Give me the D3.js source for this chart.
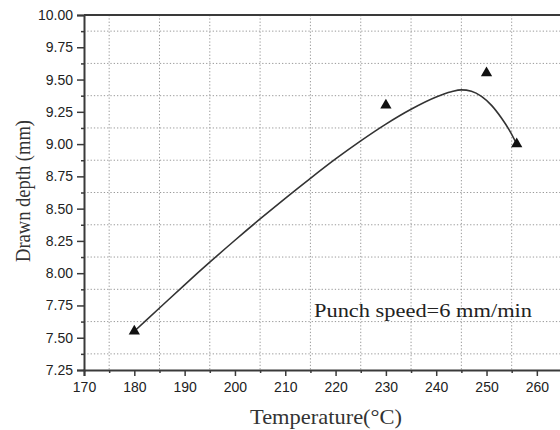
<!DOCTYPE html>
<html>
<head>
<meta charset="utf-8">
<script src="https://cdn.jsdelivr.net/npm/d3@7"></script>
<style>
  body { margin: 0; background: #fff; }
  svg { display: block; }
</style>
</head>
<body>
<svg class="chart" width="560" height="430"></svg>
<script>
// measured points (triangles)
var temps = [180, 230, 250, 256];
var depths = [7.55, 9.30, 9.55, 9.00];

// fitted curve
var fitTemps = [180, 185, 190, 195, 200, 205, 210, 215, 220, 225, 230, 235, 240, 243, 245, 247, 249, 251, 253, 254.5, 256];
var fitDepths = [7.55, 7.73, 7.91, 8.085, 8.255, 8.42, 8.58, 8.735, 8.885, 9.025, 9.155, 9.27, 9.365, 9.405, 9.42, 9.41, 9.37, 9.30, 9.20, 9.11, 9.00];

var xTicks = [170, 180, 190, 200, 210, 220, 230, 240, 250, 260];
var xMinor = [175, 185, 195, 205, 215, 225, 235, 245, 255];
var yTicks = [7.25, 7.50, 7.75, 8.00, 8.25, 8.50, 8.75, 9.00, 9.25, 9.50, 9.75, 10.00];
var yMinor = [7.375, 7.625, 7.875, 8.125, 8.375, 8.625, 8.875, 9.125, 9.375, 9.625, 9.875];

var axisColor = "#3a3a3a";

var svg = d3.select(".chart");

var x = d3.scaleLinear().domain([170, 265]).range([84, 562]);
var y = d3.scaleLinear().domain([7.25, 10]).range([370, 15]);

// dotted grid on the minor positions
svg.append("g")
  .selectAll("line.vg")
  .data(xMinor)
  .enter().append("line")
  .attr("x1", d => x(d)).attr("x2", d => x(d))
  .attr("y1", y(10)).attr("y2", y(7.25))
  .attr("stroke", "#9a9a9a")
  .attr("stroke-width", 1)
  .attr("stroke-dasharray", "1.3,2");

svg.append("g")
  .selectAll("line.hg")
  .data(yMinor)
  .enter().append("line")
  .attr("x1", x(170)).attr("x2", 560)
  .attr("y1", d => y(d)).attr("y2", d => y(d))
  .attr("stroke", "#9a9a9a")
  .attr("stroke-width", 1)
  .attr("stroke-dasharray", "1.3,2");

// x axis
var xAxis = svg.append("g")
  .attr("transform", "translate(0," + y(7.25) + ")")
  .call(d3.axisBottom(x).tickValues(xTicks).tickSize(6).tickPadding(6).tickFormat(d3.format("d")));
xAxis.select(".domain").attr("stroke", axisColor).attr("stroke-width", 2);
xAxis.selectAll(".tick line").attr("stroke", axisColor).attr("stroke-width", 1.5);
xAxis.selectAll("text")
  .attr("font-family", "Liberation Sans, Arial, sans-serif")
  .attr("font-size", 14)
  .attr("fill", "#222");

svg.append("g")
  .attr("transform", "translate(0," + y(7.25) + ")")
  .call(d3.axisBottom(x).tickValues(xMinor).tickSize(3).tickFormat(""))
  .call(g => g.select(".domain").remove())
  .selectAll(".tick line").attr("stroke", axisColor).attr("stroke-width", 1.5);

// y axis
var yAxis = svg.append("g")
  .attr("transform", "translate(" + x(170) + ",0)")
  .call(d3.axisLeft(y).tickValues(yTicks).tickSize(7).tickPadding(4).tickFormat(d3.format(".2f")));
yAxis.select(".domain").attr("stroke", axisColor).attr("stroke-width", 2);
yAxis.selectAll(".tick line").attr("stroke", axisColor).attr("stroke-width", 1.5);
yAxis.selectAll("text")
  .attr("font-family", "Liberation Sans, Arial, sans-serif")
  .attr("font-size", 14)
  .attr("fill", "#222");

svg.append("g")
  .attr("transform", "translate(" + x(170) + ",0)")
  .call(d3.axisLeft(y).tickValues(yMinor).tickSize(3).tickFormat(""))
  .call(g => g.select(".domain").remove())
  .selectAll(".tick line").attr("stroke", axisColor).attr("stroke-width", 1.5);

// top frame line
svg.append("line")
  .attr("x1", x(170)).attr("x2", 560)
  .attr("y1", y(10)).attr("y2", y(10))
  .attr("stroke", axisColor)
  .attr("stroke-width", 2);

// fitted curve
var fit = fitTemps.map((t, i) => [t, fitDepths[i]]);
var line = d3.line()
  .x(d => x(d[0]))
  .y(d => y(d[1]))
  .curve(d3.curveMonotoneX);

svg.append("path")
  .datum(fit)
  .attr("d", line)
  .attr("fill", "none")
  .attr("stroke", "#333")
  .attr("stroke-width", 1.6);

// triangles
svg.append("g")
  .selectAll("path.pt")
  .data(temps)
  .enter().append("path")
  .attr("d", d3.symbol().type(d3.symbolTriangle).size(55))
  .attr("transform", (d, i) => "translate(" + x(d) + "," + y(depths[i]) + ")")
  .attr("fill", "#111");

// axis titles
svg.append("text")
  .attr("x", 326)
  .attr("y", 424)
  .attr("text-anchor", "middle")
  .attr("font-family", "Liberation Serif, Times New Roman, serif")
  .attr("font-size", 21)
  .attr("fill", "#333")
  .attr("textLength", 152)
  .attr("lengthAdjust", "spacingAndGlyphs")
  .text("Temperature(°C)");

svg.append("text")
  .attr("transform", "translate(30,191) rotate(-90)")
  .attr("text-anchor", "middle")
  .attr("font-family", "Liberation Serif, Times New Roman, serif")
  .attr("font-size", 20)
  .attr("fill", "#333")
  .attr("textLength", 142)
  .attr("lengthAdjust", "spacingAndGlyphs")
  .text("Drawn depth (mm)");

svg.append("text")
  .attr("x", 314)
  .attr("y", 317)
  .attr("font-family", "Liberation Serif, Times New Roman, serif")
  .attr("font-size", 19)
  .attr("fill", "#222")
  .attr("textLength", 218)
  .attr("lengthAdjust", "spacingAndGlyphs")
  .text("Punch speed=6 mm/min");
</script>
</body>
</html>
